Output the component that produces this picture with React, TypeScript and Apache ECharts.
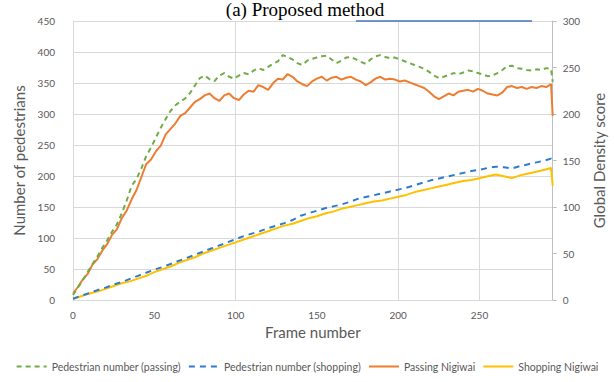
import React, { useEffect, useRef } from "react";
import * as echarts from "echarts";

// Frame numbers sampled for the jagged pedestrian / Nigiwai curves
const framesDense: number[] = [
  0, 3, 6, 9, 12, 15, 18, 21, 24, 27, 30, 33, 36, 39, 42, 45, 48, 51, 54, 57,
  60, 63, 66, 69, 72, 75, 78, 81, 84, 87, 90, 93, 96, 99, 102, 105, 108, 111, 114, 117,
  120, 123, 126, 129, 132, 135, 138, 141, 144, 147, 150, 153, 156, 159, 162, 165, 168, 171, 174, 177,
  180, 183, 186, 189, 192, 195, 198, 201, 204, 207, 210, 213, 216, 219, 222, 225, 228, 231, 234, 237,
  240, 243, 246, 249, 252, 255, 258, 261, 264, 267, 270, 273, 276, 279, 282, 285, 288, 291, 294, 295,
];

const pedestriansPassing: number[] = [
  8, 20, 32, 45, 58, 70, 84, 96, 110, 122, 140, 160, 184, 195, 212, 232, 246, 262, 278, 292,
  305, 314, 320, 325, 334, 346, 358, 362, 356, 353, 362, 366, 360, 357, 362, 366, 364, 370, 374, 371,
  376, 381, 385, 395, 392, 388, 382, 379, 386, 389, 391, 393, 394, 388, 382, 386, 391, 392, 388, 384,
  381, 388, 393, 395, 392, 390, 391, 388, 385, 382, 379, 376, 373, 368, 362, 358, 360, 363, 366, 364,
  367, 370, 369, 366, 364, 361, 362, 366, 371, 377, 378, 374, 373, 371, 370, 372, 371, 374, 373, 352,
];

const nigiwaiPassing: number[] = [
  7, 14, 22, 28, 38, 44, 53, 60, 70, 76, 88, 96, 108, 118, 132, 146, 151, 160, 166, 178,
  184, 190, 198, 201, 207, 213, 216, 220, 222, 217, 214, 220, 222, 217, 215, 221, 225, 224, 231, 229,
  226, 233, 238, 237, 243, 240, 235, 232, 230, 235, 238, 240, 236, 239, 240, 237, 239, 240, 237, 235,
  231, 234, 238, 240, 237, 238, 237, 235, 236, 234, 232, 230, 228, 224, 219, 216, 219, 222, 220, 224,
  225, 226, 224, 227, 225, 222, 221, 220, 223, 229, 230, 228, 229, 227, 229, 228, 230, 229, 232, 198,
];

// Frame numbers for the smoother shopping curves
const framesSparse: number[] = [
  0, 5, 10, 15, 20, 25, 30, 35, 40, 45, 50, 55, 60, 65, 70, 75, 80, 85, 90, 95,
  100, 105, 110, 115, 120, 125, 130, 135, 140, 145, 150, 155, 160, 165, 170, 175, 180, 185, 190, 195,
  200, 205, 210, 215, 220, 225, 230, 235, 240, 245, 250, 255, 260, 265, 270, 275, 280, 285, 290, 294, 295,
];

const pedestriansShopping: number[] = [
  2, 7, 11, 16, 20, 25, 29, 34, 39, 44, 49, 53, 58, 63, 68, 73, 78, 83, 88, 93,
  98, 103, 107, 111, 116, 120, 124, 129, 136, 140, 144, 148, 151, 154, 158, 163, 166, 169, 172, 175,
  178, 181, 185, 189, 193, 196, 199, 202, 205, 208, 210, 213, 215, 214, 212, 216, 219, 222, 225, 228, 226,
];

const nigiwaiShopping: number[] = [
  1, 4, 7, 9, 12, 15, 18, 20, 23, 26, 30, 33, 36, 40, 43, 46, 50, 53, 56, 59,
  62, 65, 68, 71, 74, 77, 80, 82, 85, 88, 90, 93, 95, 98, 100, 102, 104, 106, 107, 109,
  111, 113, 116, 118, 120, 122, 124, 126, 128, 129, 131, 133, 135, 133, 131, 134, 136, 138, 140, 142, 123,
];

const seriesNames: string[] = [
  "Pedestrian number (passing)",
  "Pedestrian number (shopping)",
  "Passing Nigiwai",
  "Shopping Nigiwai",
];

const verticalGridFrames: number[] = [100, 200, 250];

const pair = (xs: number[], ys: number[]) => xs.map((x, i) => [x, ys[i]]);

const FONT = "Lato, 'Open Sans', sans-serif";
const GREY = "#595959";

export default function App() {
  const ref = useRef<HTMLDivElement>(null);

  useEffect(() => {
    if (!ref.current) return;
    const chart = echarts.init(ref.current, undefined, { renderer: "svg" });
    chart.setOption({
      animation: false,
      backgroundColor: "#ffffff",
      textStyle: { fontFamily: FONT },
      graphic: [
        {
          type: "text",
          x: 305,
          y: 0,
          style: {
            text: "(a) Proposed method",
            font: "19px 'Liberation Serif', 'Times New Roman', serif",
            fill: "#000000",
            textAlign: "center",
            textVerticalAlign: "top",
          },
          z: 10,
        },
        {
          type: "line",
          shape: { x1: 356, y1: 21, x2: 532, y2: 21 },
          style: { stroke: "#4472c4", lineWidth: 1.5 },
          z: 10,
        },
      ],
      legend: {
        bottom: 5,
        left: "center",
        itemWidth: 30,
        itemHeight: 8,
        itemGap: 7,
        itemStyle: { opacity: 0 },
        textStyle: { color: GREY, fontSize: 10.5, fontFamily: FONT },
        data: seriesNames,
      },
      grid: { left: 73, right: 61, top: 21, bottom: 82 },
      xAxis: {
        type: "value",
        min: 0,
        max: 295,
        interval: 50,
        name: "Frame number",
        nameLocation: "middle",
        nameGap: 21,
        nameTextStyle: { color: GREY, fontSize: 15, fontFamily: FONT },
        axisLine: { show: true, lineStyle: { color: "#d9d9d9", width: 1 } },
        axisTick: { show: false },
        axisLabel: {
          color: GREY,
          fontSize: 10,
          margin: 10,
          showMaxLabel: false,
          formatter: (v: number) => (v % 50 === 0 ? String(v) : ""),
        },
        splitLine: { show: false },
      },
      yAxis: [
        {
          type: "value",
          min: 0,
          max: 450,
          interval: 50,
          name: "Number of pedestrians",
          nameLocation: "middle",
          nameGap: 27,
          nameTextStyle: { color: GREY, fontSize: 15, fontFamily: FONT },
          axisLine: { show: true, lineStyle: { color: "#d9d9d9" } },
          axisTick: { show: false },
          axisLabel: { color: GREY, fontSize: 10, margin: 18 },
          splitLine: { show: true, lineStyle: { color: "#d9d9d9", width: 1 } },
        },
        {
          type: "value",
          min: 0,
          max: 300,
          interval: 50,
          position: "right",
          name: "Global Density score",
          nameLocation: "middle",
          nameGap: 31,
          nameRotate: 90,
          nameTextStyle: { color: GREY, fontSize: 15, fontFamily: FONT },
          axisLine: { show: true, lineStyle: { color: "#bfbfbf" } },
          axisTick: { show: true, length: 4, lineStyle: { color: "#bfbfbf" } },
          axisLabel: { color: GREY, fontSize: 10, margin: 10 },
          splitLine: { show: false },
        },
      ],
      series: [
        {
          name: seriesNames[0],
          type: "line",
          yAxisIndex: 0,
          data: pair(framesDense, pedestriansPassing),
          symbol: "none",
          lineStyle: { color: "#70ad47", width: 2, type: [5, 4] },
          itemStyle: { color: "#70ad47" },
          z: 3,
          markLine: {
            silent: true,
            symbol: "none",
            label: { show: false },
            lineStyle: { color: "#d9d9d9", width: 1, type: "solid" },
            data: verticalGridFrames.map((f) => ({ xAxis: f })),
            z: 1,
          },
        },
        {
          name: seriesNames[1],
          type: "line",
          yAxisIndex: 0,
          data: pair(framesSparse, pedestriansShopping),
          symbol: "none",
          lineStyle: { color: "#2e7bcf", width: 2, type: [6, 5] },
          itemStyle: { color: "#2e7bcf" },
          z: 3,
        },
        {
          name: seriesNames[2],
          type: "line",
          yAxisIndex: 1,
          data: pair(framesDense, nigiwaiPassing),
          symbol: "none",
          lineStyle: { color: "#ed7d31", width: 2 },
          itemStyle: { color: "#ed7d31" },
          z: 2,
        },
        {
          name: seriesNames[3],
          type: "line",
          yAxisIndex: 1,
          data: pair(framesSparse, nigiwaiShopping),
          symbol: "none",
          lineStyle: { color: "#ffc000", width: 2 },
          itemStyle: { color: "#ffc000" },
          z: 2,
        },
      ],
    });
    return () => chart.dispose();
  }, []);

  return (
    <div
      ref={ref}
      style={{ position: "fixed", left: 0, top: 0, width: 614, height: 382 }}
    />
  );
}
